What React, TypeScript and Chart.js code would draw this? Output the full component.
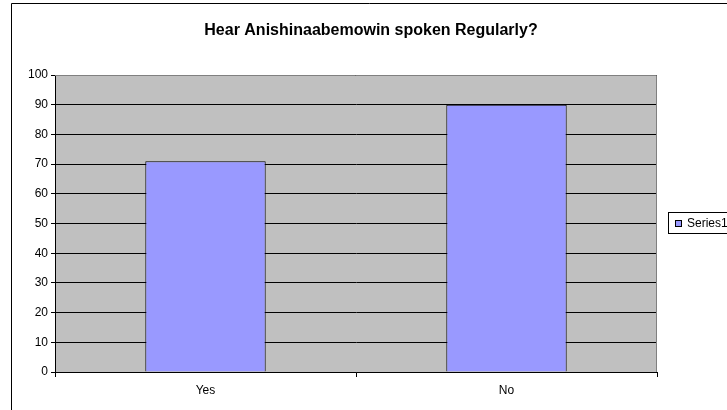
import React, { useEffect, useRef } from "react";
import { Chart, registerables } from "chart.js";

Chart.register(...registerables);

const chartTitle = "Hear Anishinaabemowin spoken Regularly?";
const categories = ["Yes", "No"];
const seriesName = "Series1";
const seriesValues = [71, 90];
const yTicks = [0, 10, 20, 30, 40, 50, 60, 70, 80, 90, 100];

const FONT = "'Liberation Sans', Arial, sans-serif";

const decorPlugin = {
  id: "decor",
  beforeDraw(chart: any) {
    const { ctx, chartArea } = chart;
    ctx.save();
    ctx.fillStyle = "#ffffff";
    ctx.fillRect(0, 0, chart.width, chart.height);
    // outer chart border
    ctx.strokeStyle = "#000000";
    ctx.lineWidth = 1;
    ctx.beginPath();
    ctx.moveTo(11.5, chart.height + 5);
    ctx.lineTo(11.5, 3.5);
    ctx.lineTo(chart.width + 5, 3.5);
    ctx.stroke();
    // plot background
    ctx.fillStyle = "#C0C0C0";
    ctx.fillRect(chartArea.left, chartArea.top, chartArea.right - chartArea.left, chartArea.bottom - chartArea.top);
    ctx.restore();
  },
  afterDraw(chart: any) {
    const { ctx, chartArea } = chart;
    ctx.save();
    // plot area border (top/right gray)
    ctx.strokeStyle = "#808080";
    ctx.lineWidth = 1;
    ctx.beginPath();
    ctx.moveTo(chartArea.left, chartArea.top + 0.5);
    ctx.lineTo(chartArea.right - 0.5, chartArea.top + 0.5);
    ctx.lineTo(chartArea.right - 0.5, chartArea.bottom);
    ctx.stroke();
    // title
    ctx.fillStyle = "#000000";
    ctx.font = "bold 16px " + FONT;
    ctx.textAlign = "center";
    ctx.textBaseline = "middle";
    ctx.fillText(chartTitle, 371, 31);
    // legend
    const lx = 668.5, ly = 212.5;
    ctx.fillStyle = "#ffffff";
    ctx.fillRect(lx, ly, 80, 21);
    ctx.strokeStyle = "#000000";
    ctx.strokeRect(lx, ly, 80, 21);
    ctx.fillStyle = "#9999FF";
    ctx.fillRect(675.5, 220.5, 6, 6);
    ctx.strokeRect(675.5, 220.5, 6, 6);
    ctx.fillStyle = "#000000";
    ctx.font = "12px " + FONT;
    ctx.textAlign = "left";
    ctx.textBaseline = "middle";
    ctx.fillText(chart.data.datasets[0].label, 687, 224);
    ctx.restore();
  },
};

export default function App() {
  const ref = useRef<HTMLCanvasElement>(null);
  useEffect(() => {
    document.body.style.margin = "0";
    const chart = new Chart(ref.current!, {
      type: "bar",
      data: {
        labels: categories,
        datasets: [
          {
            label: seriesName,
            data: seriesValues,
            backgroundColor: "#9999FF",
            borderColor: "#000000",
            borderWidth: 1,
            barPercentage: 0.4,
            categoryPercentage: 1,
          },
        ],
      },
      options: {
        responsive: false,
        animation: false,
        layout: { padding: { left: 0, top: 75, right: 70, bottom: 0 } },
        plugins: { legend: { display: false }, title: { display: false }, tooltip: { enabled: false } },
        scales: {
          x: {
            afterFit: (s: any) => { s.height = 38; },
            grid: { display: true, drawOnChartArea: false, color: "#000000", tickLength: 5, offset: true },
            border: { display: true, color: "#000000", width: 1 },
            ticks: { color: "#000000", font: { family: FONT, size: 12 }, padding: 6 },
          },
          y: {
            min: 0,
            max: 100,
            afterFit: (s: any) => { s.width = 55; },
            afterBuildTicks: (s: any) => { s.ticks = yTicks.map((v) => ({ value: v })); },
            grid: { color: "#000000", lineWidth: 1, tickLength: 4 },
            border: { display: true, color: "#000000", width: 1 },
            ticks: { color: "#000000", font: { family: FONT, size: 12 }, padding: 3 },
          },
        },
      },
      plugins: [decorPlugin],
    });
    return () => chart.destroy();
  }, []);
  return (
    <div style={{ position: "absolute", left: 0, top: 0, width: 727, height: 410 }}>
      <canvas ref={ref} width={727} height={410} style={{ width: 727, height: 410, display: "block" }} />
    </div>
  );
}
